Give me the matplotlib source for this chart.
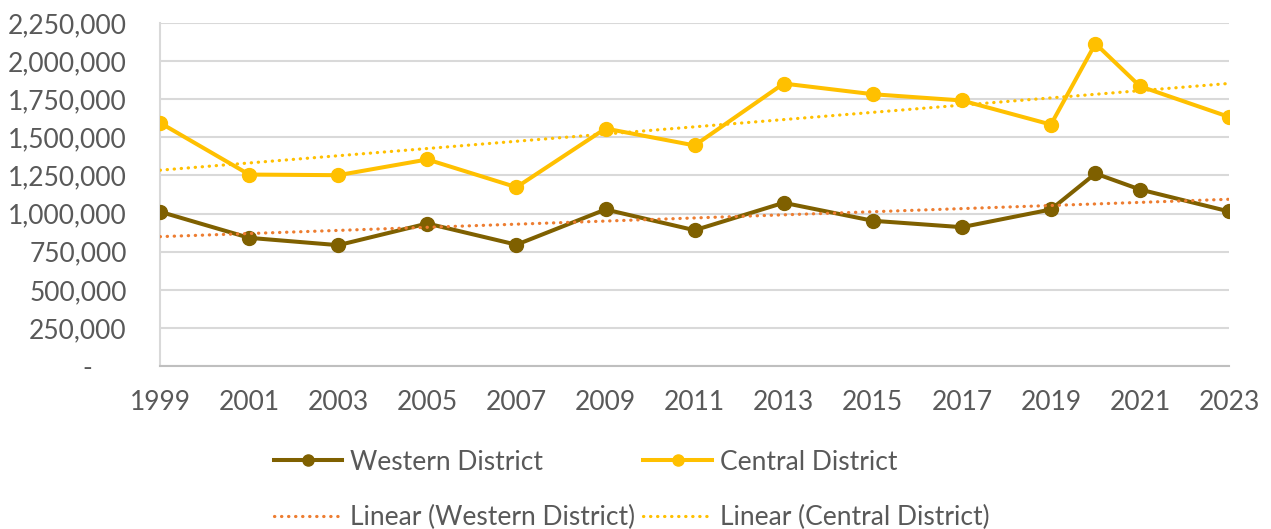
import matplotlib
matplotlib.use('Agg')
import matplotlib.pyplot as plt
import numpy as np
from matplotlib.ticker import FuncFormatter

# ── Data ────────────────────────────────────────────────────────────────────
years = [1999, 2001, 2003, 2005, 2007, 2009, 2011, 2013, 2015, 2017, 2019, 2020, 2021, 2023]
western = [1012000, 841000, 793000, 935000, 796000, 1027000, 891000, 1071000,
           953000, 911000, 1027000, 1263000, 1158000, 1014000]
central = [1595000, 1256000, 1252000, 1355000, 1173000, 1558000, 1447000, 1853000,
           1783000, 1742000, 1584000, 2115000, 1835000, 1634000]
x_ticks = list(range(1999, 2024, 2))
y_ticks = list(range(0, 2250001, 250000))

WEST_COLOR = '#7F6000'
CENT_COLOR = '#FFC000'
WEST_TREND = '#ED7D31'
TEXT_COLOR = '#595959'
GRID_COLOR = '#D9D9D9'

plt.rcParams['font.family'] = ['Lato', 'DejaVu Sans']


def linear_fit(x, y):
    slope, intercept = np.polyfit(x, y, 1)
    xs = np.array([x[0], x[-1]], dtype=float)
    return xs, slope * xs + intercept


def fmt_y(v, _pos):
    if v == 0:
        return '-     '
    return f'{v:,.0f}'


fig = plt.figure(figsize=(12.71, 5.29), dpi=100)
ax = fig.add_axes([0.126, 0.308, 0.841, 0.6485])

h_w, = ax.plot(years, western, color=WEST_COLOR, lw=2.9, marker='o', ms=10,
               label='Western District', zorder=3)
h_c, = ax.plot(years, central, color=CENT_COLOR, lw=2.9, marker='o', ms=10,
               label='Central District', zorder=3)

tx, ty = linear_fit(years, western)
h_tw, = ax.plot(tx, ty, color=WEST_TREND, lw=2.3, ls=(0, (0.1, 2.1)),
                dash_capstyle='round', label='Linear (Western District)', zorder=4)
tx, ty = linear_fit(years, central)
h_tc, = ax.plot(tx, ty, color=CENT_COLOR, lw=2.3, ls=(0, (0.1, 2.1)),
                dash_capstyle='round', label='Linear (Central District)', zorder=4)

ax.set_xlim(1999, 2023)
ax.set_ylim(0, 2250000)
ax.set_xticks(x_ticks)
ax.set_yticks(y_ticks)
ax.yaxis.set_major_formatter(FuncFormatter(fmt_y))
ax.tick_params(length=0, labelsize=19, colors=TEXT_COLOR)
ax.tick_params(axis='x', pad=17)
ax.tick_params(axis='y', pad=24)
ax.grid(axis='y', color=GRID_COLOR, lw=1.5, zorder=0)
ax.set_axisbelow(True)

for side in ('top', 'right'):
    ax.spines[side].set_visible(False)
ax.spines['left'].set_color(GRID_COLOR)
ax.spines['left'].set_linewidth(1.5)
ax.spines['bottom'].set_color('#BFBFBF')
ax.spines['bottom'].set_linewidth(1.5)

# column-major fill: col 1 = Western + its trend, col 2 = Central + its trend
handles = [h_w, h_tw, h_c, h_tc]
labels = [h.get_label() for h in handles]
leg = fig.legend(handles, labels, loc='center', bbox_to_anchor=(0.497, 0.074),
                 ncol=2, frameon=False, fontsize=19, handlelength=2.6,
                 handletextpad=0.3, columnspacing=0.3, labelspacing=1.15,
                 markerscale=0.8)
for t in leg.get_texts():
    t.set_color(TEXT_COLOR)

fig.savefig('out.png', dpi=100)
plt.close(fig)
